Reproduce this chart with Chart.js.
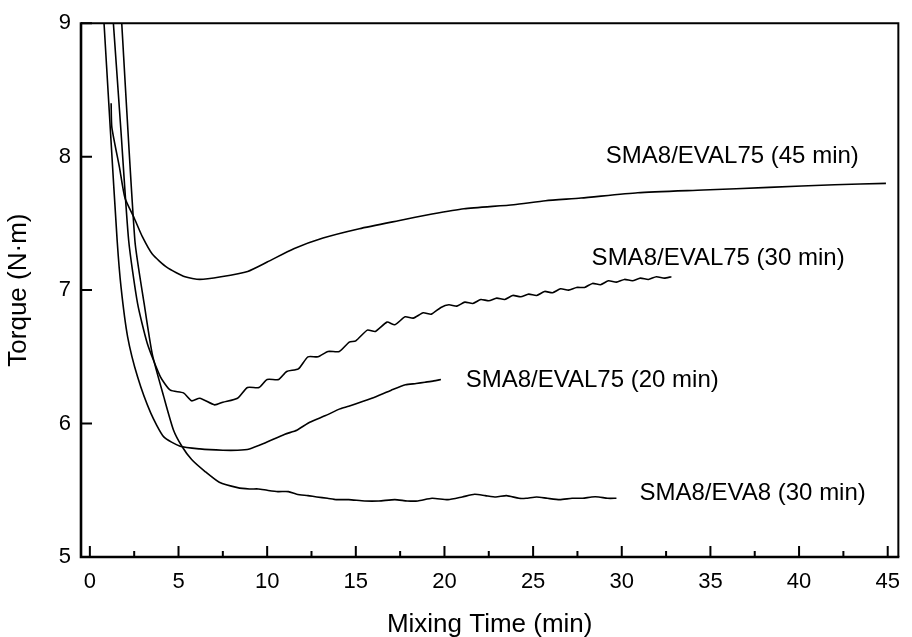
<!DOCTYPE html>
<html>
<head>
<meta charset="utf-8">
<title>Torque vs mixing time</title>
<script src="https://cdn.jsdelivr.net/npm/chart.js@4.4.1/dist/chart.umd.min.js"></script>
<style>
    html, body { margin: 0; padding: 0; background: #fff; }
    #wrap { width: 912px; height: 637px; }
</style>
</head>
<body>
<div id="wrap"><canvas id="torqueChart" width="912" height="637"></canvas></div>
<script>
// SMA8/EVAL75 mixed 45 min
const time45 = [1.2, 1.24, 1.67, 1.98, 2.5, 2.96, 3.52, 4.35, 5.37, 6.2, 7.4, 8.9, 10.0, 11.5, 13.15, 15.2, 17.4, 19.3, 21.1, 23.9, 25.7, 27.7, 30.9, 34.6, 38.3, 42.0, 44.9];
const torque45 = [8.40, 8.22, 7.92, 7.69, 7.54, 7.40, 7.27, 7.17, 7.10, 7.08, 7.10, 7.14, 7.21, 7.31, 7.39, 7.46, 7.52, 7.57, 7.61, 7.64, 7.67, 7.69, 7.73, 7.75, 7.77, 7.79, 7.80];

// SMA8/EVAL75 mixed 30 min (ripple from the rotor)
const time30 = [1.22, 1.75, 2.19, 2.69, 3.24, 3.98, 4.54, 5.28, 5.74, 6.2,
    7.04, 7.5, 8.33, 8.89, 9.54, 10.0, 10.65, 11.1, 11.76, 12.3,
    12.87, 13.43, 14.07, 14.63, 15.0, 15.65, 16.1, 16.76, 17.2, 17.78,
    18.24, 18.8, 19.26, 19.8, 20.25, 20.7, 21.15, 21.6, 22.05, 22.5,
    22.95, 23.4, 23.85, 24.3, 24.75, 25.2, 25.65, 26.1, 26.55, 27.0,
    27.45, 27.9, 28.35, 28.8, 29.25, 29.7, 30.15, 30.6, 31.05, 31.5,
    31.95, 32.4, 32.8];
const torque30 = [9.2, 8.2, 7.37, 6.90, 6.60, 6.35, 6.25, 6.23, 6.17, 6.19,
    6.14, 6.16, 6.19, 6.27, 6.27, 6.33, 6.33, 6.39, 6.41, 6.50,
    6.50, 6.54, 6.54, 6.61, 6.62, 6.70, 6.69, 6.76, 6.74, 6.80,
    6.79, 6.83, 6.82, 6.87, 6.89, 6.88, 6.91, 6.90, 6.93, 6.92,
    6.94, 6.93, 6.96, 6.95, 6.97, 6.96, 6.99, 6.98, 7.01, 7.00,
    7.02, 7.02, 7.05, 7.04, 7.07, 7.06, 7.08, 7.07, 7.09, 7.08,
    7.10, 7.09, 7.10];

// SMA8/EVAL75 mixed 20 min
const time20 = [0.71, 1.17, 1.54, 1.76, 2.13, 2.69, 3.43, 4.17, 5.09, 6.2, 7.5, 8.33, 9.0, 9.8, 11.0, 11.67, 12.4, 13.3, 14.1, 14.6, 15.9, 17.0, 17.8, 18.4, 18.9, 19.4, 19.8];
const torque20 = [9.2, 8.17, 7.37, 7.02, 6.65, 6.35, 6.08, 5.90, 5.83, 5.81, 5.80, 5.80, 5.81, 5.85, 5.92, 5.95, 6.01, 6.06, 6.11, 6.13, 6.19, 6.25, 6.29, 6.30, 6.31, 6.32, 6.33];

// SMA8/EVA8 mixed 30 min
const timeEva = [1.71, 2.54, 3.06, 3.52, 4.17, 4.72, 5.19, 5.74, 6.5, 7.3,
    8.33, 9.0, 9.5, 10.0, 10.6, 11.2, 11.67, 12.3, 12.8, 13.4,
    13.9, 14.6, 15.5, 16.3, 17.2, 17.9, 18.5, 19.3, 20.2, 21.0,
    21.7, 22.3, 22.9, 23.5, 24.2, 24.6, 25.2, 25.8, 26.5, 27.2,
    27.8, 28.3, 28.7, 29.2, 29.7];
const torqueEva = [9.2, 7.37, 6.90, 6.52, 6.20, 5.95, 5.83, 5.73, 5.64, 5.56,
    5.52, 5.51, 5.51, 5.50, 5.49, 5.49, 5.47, 5.46, 5.45, 5.44,
    5.43, 5.43, 5.42, 5.42, 5.43, 5.42, 5.42, 5.44, 5.43, 5.45,
    5.47, 5.46, 5.45, 5.46, 5.44, 5.44, 5.45, 5.44, 5.43, 5.44,
    5.44, 5.45, 5.45, 5.44, 5.44];

const xTicks = [0, 5, 10, 15, 20, 25, 30, 35, 40, 45];
const xMinorTicks = [2.5, 7.5, 12.5, 17.5, 22.5, 27.5, 32.5, 37.5, 42.5];
const yTicks = [5, 6, 7, 8, 9];

const FONT = "'Liberation Sans', Arial, Helvetica, sans-serif";

function toPoints(xs, ys) {
    return xs.map((x, i) => ({ x: x, y: ys[i] }));
}

function curve(xs, ys) {
    return {
        data: toPoints(xs, ys),
        borderColor: '#000',
        borderWidth: 1.6,
        pointRadius: 0,
        fill: false,
        tension: 0.2
    };
}

// frame, inward tick marks and the curve names
const decorations = {
    id: 'decorations',
    afterDraw(chart) {
        const ctx = chart.ctx;
        const { left, right, top, bottom } = chart.chartArea;
        const xs = chart.scales.x;
        const ys = chart.scales.y;

        ctx.save();
        ctx.strokeStyle = '#000';
        ctx.lineCap = 'butt';

        ctx.lineWidth = 2;
        ctx.beginPath();
        ctx.moveTo(left, top);
        ctx.lineTo(right, top);
        ctx.lineTo(right, bottom);
        ctx.stroke();

        ctx.lineWidth = 2.6;
        ctx.beginPath();
        ctx.moveTo(left, top - 1);
        ctx.lineTo(left, bottom);
        ctx.lineTo(right + 1, bottom);
        ctx.stroke();

        ctx.lineWidth = 2;
        ctx.beginPath();
        xTicks.forEach(v => {
            const px = xs.getPixelForValue(v);
            ctx.moveTo(px, bottom);
            ctx.lineTo(px, bottom - 11);
        });
        xMinorTicks.forEach(v => {
            const px = xs.getPixelForValue(v);
            ctx.moveTo(px, bottom);
            ctx.lineTo(px, bottom - 6);
        });
        yTicks.forEach(v => {
            const py = ys.getPixelForValue(v);
            ctx.moveTo(left, py);
            ctx.lineTo(left + 11, py);
        });
        ctx.stroke();

        ctx.fillStyle = '#000';
        ctx.font = '24px ' + FONT;
        ctx.textAlign = 'left';
        ctx.textBaseline = 'middle';
        const names = [
            ['SMA8/EVAL75 (45 min)', 29.1, 8.0],
            ['SMA8/EVAL75 (30 min)', 28.3, 7.24],
            ['SMA8/EVAL75 (20 min)', 21.2, 6.32],
            ['SMA8/EVA8 (30 min)', 31.0, 5.48]
        ];
        names.forEach(([text, x, y]) => {
            ctx.fillText(text, xs.getPixelForValue(x), ys.getPixelForValue(y));
        });
        ctx.restore();
    }
};

const ctx = document.getElementById('torqueChart').getContext('2d');
new Chart(ctx, {
    type: 'line',
    data: {
        datasets: [
            curve(time45, torque45),
            curve(time30, torque30),
            curve(time20, torque20),
            curve(timeEva, torqueEva)
        ]
    },
    options: {
        responsive: false,
        animation: false,
        layout: {
            padding: { top: 20, right: 4, left: 0, bottom: 0 }
        },
        plugins: {
            legend: { display: false },
            tooltip: { enabled: false }
        },
        scales: {
            x: {
                type: 'linear',
                min: -0.5,
                max: 45.6,
                afterBuildTicks: s => { s.ticks = xTicks.map(v => ({ value: v })); },
                afterFit: s => { s.height = 80; },
                grid: { display: false, drawTicks: false },
                border: { display: false },
                ticks: {
                    color: '#000',
                    padding: 12,
                    maxRotation: 0,
                    font: { family: FONT, size: 22 }
                },
                title: {
                    display: true,
                    text: 'Mixing Time (min)',
                    color: '#000',
                    padding: { top: 0, bottom: 0 },
                    font: { family: FONT, size: 26, lineHeight: 0.9 }
                }
            },
            y: {
                type: 'linear',
                min: 5,
                max: 9,
                afterBuildTicks: s => { s.ticks = yTicks.map(v => ({ value: v })); },
                afterFit: s => { s.width = 81; },
                grid: { display: false, drawTicks: false },
                border: { display: false },
                ticks: {
                    color: '#000',
                    padding: 10,
                    font: { family: FONT, size: 22 }
                },
                title: {
                    display: true,
                    text: 'Torque (N·m)',
                    color: '#000',
                    padding: { top: 3, bottom: 0 },
                    font: { family: FONT, size: 26, lineHeight: 1.2 }
                }
            }
        }
    },
    plugins: [decorations]
});
</script>
</body>
</html>
